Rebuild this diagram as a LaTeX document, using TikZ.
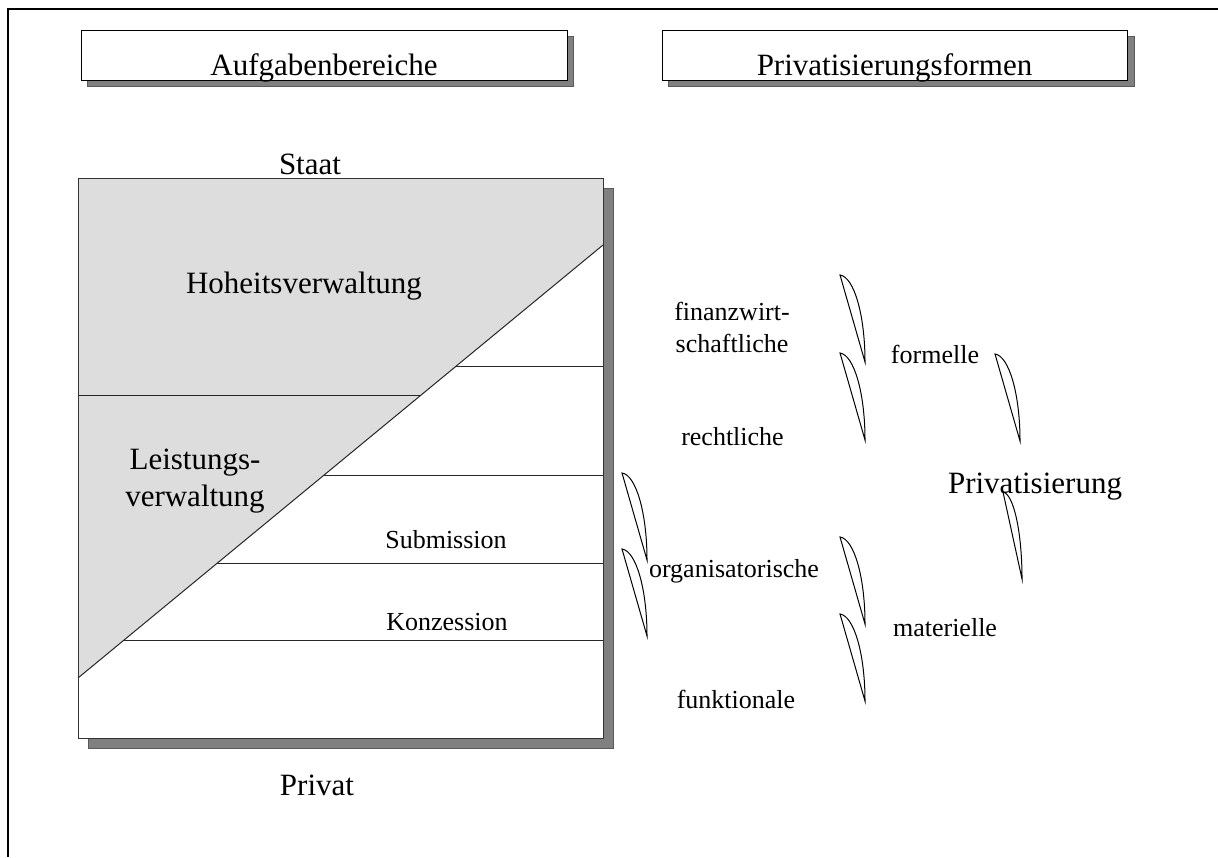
\documentclass[tikz,border=0pt]{standalone}
\usepackage{fontspec}
\setmainfont{Liberation Serif}
\definecolor{fillgray}{RGB}{221,221,221}
\definecolor{shadowgray}{RGB}{128,128,128}
\begin{document}
\begin{tikzpicture}[x=0.5pt,y=-0.5pt,
  big/.style={font=\fontsize{15.5}{18.25}\selectfont, inner sep=0pt, anchor=base, align=center},
  mid/.style={font=\fontsize{13}{16}\selectfont, inner sep=0pt, anchor=base, align=center},
  hdrbox/.style={draw=black, line width=0.5pt, fill=white},
  shadowbox/.style={fill=shadowgray, draw=shadowgray!70!black, line width=0.4pt},
  leafline/.style={draw=black, line width=0.5pt, fill=white},
  rulel/.style={draw=black!85, line width=0.5pt},
  leaf/.pic={\path[leafline] (0,0) .. controls (14,2) and (25,40) .. (25,87) -- cycle;}]
\useasboundingbox (0,0) rectangle (1218,857);
% outer frame
\draw[line width=1.1pt] (1218,9) -- (8,9) -- (8,857);
% headers
\path[shadowbox] (87,36) rectangle (573,86);
\path[hdrbox] (81,30) rectangle (567,80);
\node[big] (h1) at (324,75) {Aufgabenbereiche};
\path[shadowbox] (668,36) rectangle (1134,86);
\path[hdrbox] (662,30) rectangle (1127,80);
\node[big] (h2) at (894.5,75) {Privatisierungsformen};
% main box
\path[shadowbox] (88,188) rectangle (613,748);
\path[fill=white] (78,178) rectangle (603,738);
\path[fill=fillgray] (78,178) -- (603,178) -- (603,245) -- (78,678) -- cycle;
\coordinate (d0) at (78,678);
\coordinate (d1) at (603,245);
\draw[rulel] (d0) -- (d1);
\draw[rulel] (456.3,366) -- (603,366);
\draw[rulel] (78,395) -- (421,395);
\draw[rulel] (324,475) -- (603,475);
\draw[rulel] (217.4,563) -- (603,563);
\draw[rulel] (124,640) -- (603,640);
\draw[draw=black!80, line width=0.5pt] (78,178) rectangle (603,738);
% texts left
\node[big] (staat) at (310,174) {Staat};
\node[big] (hoheit) at (304,293) {Hoheitsverwaltung};
\node[big] (leist) at (195,506) {Leistungs-\\verwaltung};
\node[mid] (subm) at (446,548) {Submission};
\node[mid] (konz) at (447,630) {Konzession};
\node[big] (privat) at (317,795) {Privat};
% texts right
\node[mid] (finanz) at (732,352) {finanzwirt-\\schaftliche};
\node[mid] (recht) at (732.5,445) {rechtliche};
\node[mid] (formell) at (935,363) {formelle};
\node[big] (privatis) at (1035,493) {Privatisierung};
\node[mid] (orga) at (734,577) {organisatorische};
\node[mid] (funkt) at (736,708) {funktionale};
\node[mid] (mater) at (945,636) {materielle};
% leaves
\pic at (840,275) {leaf};
\pic at (840,353) {leaf};
\pic at (622,473) {leaf};
\pic at (622,549) {leaf};
\pic at (840,537) {leaf};
\pic at (840,614) {leaf};
\pic at (995,354) {leaf};
\pic[xscale=0.76] at (1003,492) {leaf};
\end{tikzpicture}
\end{document}
